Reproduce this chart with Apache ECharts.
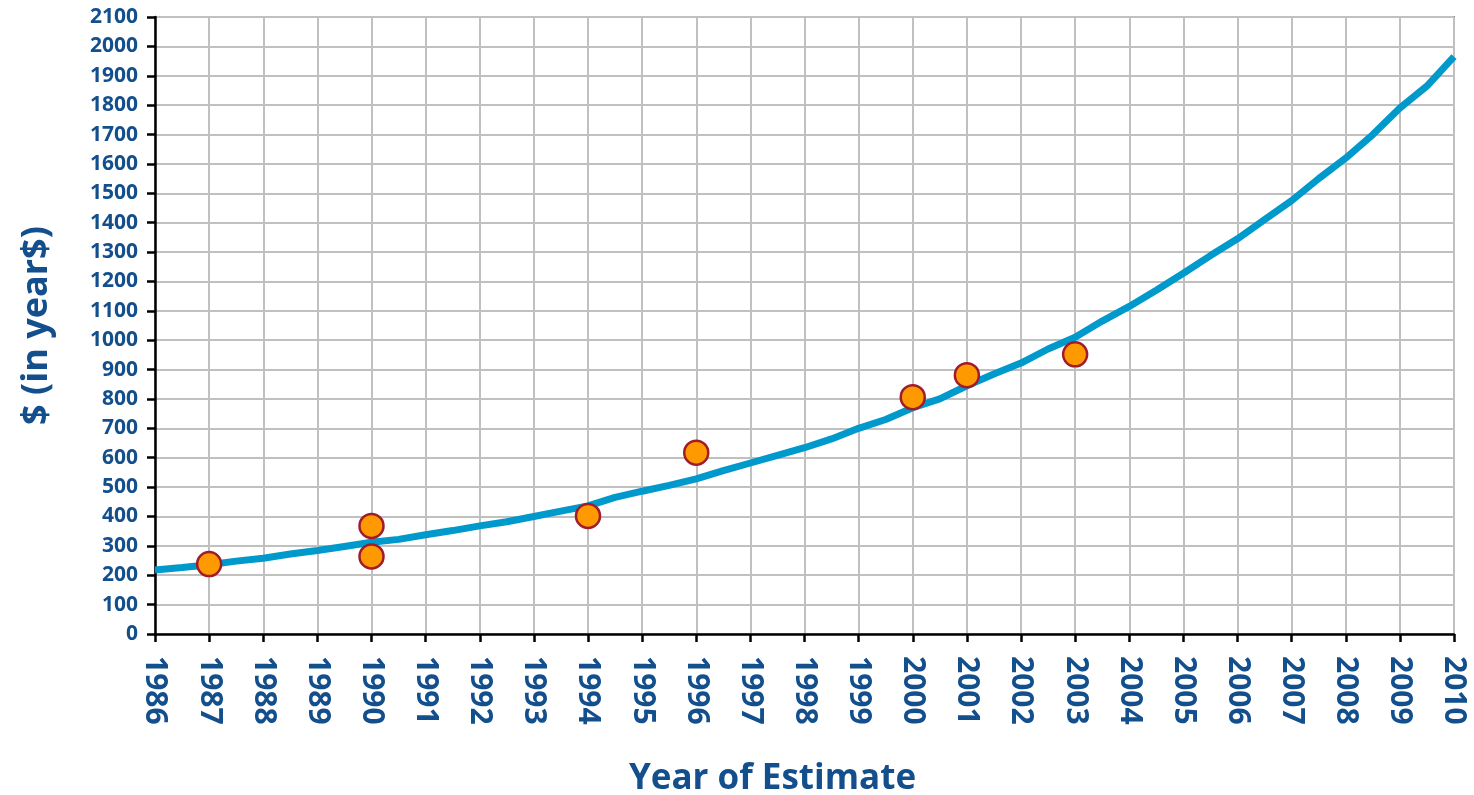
<!DOCTYPE html>
<html><head><meta charset="utf-8">
<script src="https://cdn.jsdelivr.net/npm/echarts@6/dist/echarts.min.js"></script>
<style>html,body{margin:0;padding:0;background:#fff}#c{width:1474px;height:795px}</style>
</head><body><div id="c"></div>
<script>
const lineYears = [1986,1986.5,1987,1987.5,1988,1988.5,1989,1989.5,1990,1990.5,1991,1991.5,1992,1992.5,1993,1993.5,1994,1994.5,1995,1995.5,1996,1996.5,1997,1997.5,1998,1998.5,1999,1999.5,2000,2000.5,2001,2001.5,2002,2002.5,2003,2003.5,2004,2004.5,2005,2005.5,2006,2006.5,2007,2007.5,2008,2008.5,2009,2009.5,2010];
const lineValues = [218,226,236,248,258,272,284,298,312,322,338,352,368,382,400,418,436,465,486,506,528,556,582,608,634,664,700,730,770,800,845,885,922,970,1010,1065,1115,1170,1228,1288,1345,1410,1475,1550,1620,1700,1790,1865,1965];
const estYears = [1987,1990,1990,1994,1996,2000,2001,2003];
const estValues = [238,368,264,402,617,806,881,952];
const xTitle = 'Year of Estimate';
const yTitle = '$ (in year$)';
const blue = '#124f8c';
const chart = echarts.init(document.getElementById('c'));
chart.setOption({
  animation:false,
  grid:{left:155,right:20,top:17,bottom:161,outerBoundsMode:'none',containLabel:false,show:true,borderColor:'#808080',borderWidth:2,backgroundColor:'#fff'},
  xAxis:{type:'value',min:1986,max:2010,interval:1,
    name:xTitle,nameLocation:'middle',nameGap:128,
    nameTextStyle:{color:blue,fontFamily:'Open Sans',fontWeight:'bold',fontSize:35,padding:[0,64,0,0]},
    axisLine:{lineStyle:{color:'#000',width:2.5}},
    axisTick:{length:8,lineStyle:{color:'#000',width:2.5}},
    axisLabel:{rotate:-90,margin:22,color:blue,fontFamily:'Open Sans',fontWeight:'bold',fontSize:30,formatter:v=>String(v)},
    splitLine:{lineStyle:{color:'#c0c0c0',width:2}}},
  yAxis:{type:'value',min:0,max:2100,interval:100,
    name:yTitle,nameLocation:'middle',nameGap:100,nameRotate:90,
    nameTextStyle:{color:blue,fontFamily:'Open Sans',fontWeight:'bold',fontSize:36},
    axisLine:{show:true,lineStyle:{color:'#000',width:2.5}},
    axisTick:{show:true,length:8,lineStyle:{color:'#000',width:2.5}},
    axisLabel:{margin:17,color:blue,fontFamily:'Open Sans',fontWeight:'bold',fontSize:21,formatter:v=>String(v)},
    splitLine:{lineStyle:{color:'#c0c0c0',width:2}}},
  series:[
    {type:'line',data:lineYears.map((x,i)=>[x,lineValues[i]]),showSymbol:false,smooth:false,
     lineStyle:{color:'#0099cc',width:7},z:3},
    {type:'scatter',data:estYears.map((x,i)=>[x,estValues[i]]),symbolSize:24,
     itemStyle:{color:'#ff9900',borderColor:'#a01c2c',borderWidth:2.5,opacity:1},z:4}
  ]
});
</script></body></html>
